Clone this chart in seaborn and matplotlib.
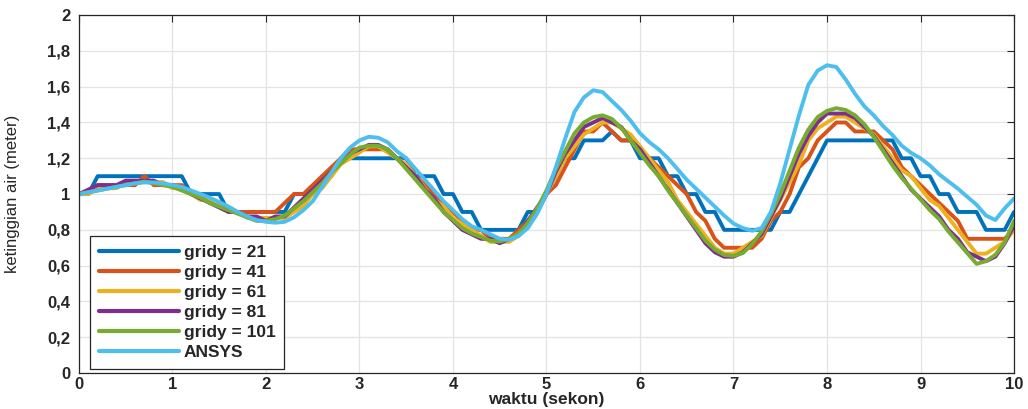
import numpy as np
import pandas as pd
import matplotlib
matplotlib.use("Agg")
import matplotlib.pyplot as plt
import seaborn as sns

# time samples (s)
time = np.round(np.arange(0, 10.01, 0.1), 1)

gridy21 = [1.0, 1.0, 1.1, 1.1, 1.1, 1.1, 1.1, 1.1, 1.1, 1.1,
           1.1, 1.1, 1.0, 1.0, 1.0, 1.0, 0.9, 0.9, 0.9, 0.9,
           0.9, 0.9, 0.9, 1.0, 1.0, 1.0, 1.1, 1.1, 1.2, 1.2,
           1.2, 1.2, 1.2, 1.2, 1.2, 1.2, 1.1, 1.1, 1.1, 1.0,
           1.0, 0.9, 0.9, 0.8, 0.8, 0.8, 0.8, 0.8, 0.9, 0.9,
           1.0, 1.1, 1.2, 1.2, 1.3, 1.3, 1.3, 1.35, 1.3, 1.3,
           1.2, 1.2, 1.2, 1.1, 1.1, 1.0, 1.0, 0.9, 0.9, 0.8,
           0.8, 0.8, 0.8, 0.8, 0.8, 0.9, 0.9, 1.0, 1.1, 1.2,
           1.3, 1.3, 1.3, 1.3, 1.3, 1.3, 1.3, 1.3, 1.2, 1.2,
           1.1, 1.1, 1.0, 1.0, 0.9, 0.9, 0.9, 0.8, 0.8, 0.8,
           0.9]

gridy41 = [1.0, 1.0, 1.05, 1.05, 1.05, 1.05, 1.05, 1.1, 1.05, 1.05,
           1.05, 1.05, 1.0, 1.0, 0.95, 0.95, 0.9, 0.9, 0.9, 0.9,
           0.9, 0.9, 0.95, 1.0, 1.0, 1.05, 1.1, 1.15, 1.2, 1.25,
           1.25, 1.25, 1.25, 1.25, 1.2, 1.15, 1.1, 1.05, 1.0, 0.95,
           0.9, 0.85, 0.8, 0.8, 0.75, 0.75, 0.75, 0.8, 0.85, 0.9,
           1.0, 1.05, 1.15, 1.25, 1.35, 1.35, 1.4, 1.35, 1.3, 1.3,
           1.25, 1.2, 1.15, 1.1, 1.05, 1.0, 0.9, 0.85, 0.75, 0.7,
           0.7, 0.7, 0.7, 0.75, 0.85, 0.9, 1.0, 1.15, 1.2, 1.3,
           1.35, 1.4, 1.4, 1.35, 1.35, 1.35, 1.3, 1.25, 1.15, 1.1,
           1.05, 1.0, 0.95, 0.9, 0.85, 0.75, 0.75, 0.75, 0.75, 0.75,
           0.8]

gridy61 = [1.0, 1.0, 1.033, 1.033, 1.033, 1.067, 1.067, 1.067, 1.067, 1.067,
           1.033, 1.033, 1.0, 0.967, 0.967, 0.933, 0.9, 0.9, 0.867, 0.867,
           0.867, 0.867, 0.867, 0.9, 0.933, 1.0, 1.033, 1.1, 1.167, 1.2,
           1.233, 1.267, 1.267, 1.233, 1.2, 1.167, 1.1, 1.033, 0.967, 0.933,
           0.867, 0.833, 0.8, 0.767, 0.733, 0.733, 0.733, 0.767, 0.833, 0.9,
           1.0, 1.1, 1.2, 1.267, 1.333, 1.367, 1.4, 1.4, 1.367, 1.333,
           1.267, 1.2, 1.133, 1.067, 0.967, 0.9, 0.833, 0.767, 0.7, 0.667,
           0.667, 0.7, 0.733, 0.767, 0.867, 0.967, 1.067, 1.167, 1.3, 1.367,
           1.4, 1.433, 1.433, 1.4, 1.367, 1.333, 1.267, 1.2, 1.133, 1.1,
           1.033, 0.967, 0.933, 0.867, 0.8, 0.733, 0.667, 0.667, 0.7, 0.733,
           0.8]

gridy81 = [1.0, 1.025, 1.05, 1.05, 1.05, 1.075, 1.075, 1.075, 1.075, 1.05,
           1.05, 1.025, 1.0, 0.975, 0.95, 0.925, 0.9, 0.9, 0.875, 0.875,
           0.85, 0.875, 0.875, 0.925, 0.975, 1.025, 1.075, 1.125, 1.175, 1.225,
           1.25, 1.275, 1.275, 1.25, 1.2, 1.15, 1.1, 1.025, 0.975, 0.9,
           0.85, 0.8, 0.775, 0.75, 0.75, 0.725, 0.75, 0.775, 0.85, 0.925,
           1.0, 1.125, 1.225, 1.3, 1.375, 1.4, 1.425, 1.4, 1.375, 1.3,
           1.25, 1.175, 1.1, 1.025, 0.95, 0.875, 0.8, 0.725, 0.675, 0.65,
           0.65, 0.675, 0.725, 0.775, 0.875, 0.975, 1.1, 1.225, 1.325, 1.4,
           1.45, 1.45, 1.45, 1.425, 1.375, 1.325, 1.25, 1.175, 1.1, 1.025,
           0.975, 0.925, 0.875, 0.8, 0.75, 0.675, 0.65, 0.625, 0.65, 0.725,
           0.825]

gridy101 = [1.0, 1.01, 1.02, 1.03, 1.04, 1.05, 1.06, 1.07, 1.06, 1.05,
            1.04, 1.02, 1.0, 0.98, 0.95, 0.93, 0.91, 0.89, 0.87, 0.85,
            0.85, 0.86, 0.88, 0.92, 0.96, 1.01, 1.06, 1.12, 1.17, 1.22,
            1.26, 1.27, 1.27, 1.25, 1.2, 1.14, 1.08, 1.02, 0.96, 0.9,
            0.855, 0.81, 0.78, 0.76, 0.74, 0.735, 0.75, 0.78, 0.84, 0.92,
            1.02, 1.14, 1.24, 1.34, 1.4, 1.43, 1.44, 1.42, 1.37, 1.3,
            1.23, 1.16, 1.1, 1.02, 0.95, 0.88, 0.81, 0.74, 0.69, 0.66,
            0.655, 0.67, 0.72, 0.79, 0.89, 1.0, 1.13, 1.26, 1.36, 1.43,
            1.465, 1.48, 1.47, 1.44, 1.39, 1.32, 1.24, 1.16, 1.09, 1.03,
            0.97, 0.91, 0.86, 0.79, 0.73, 0.67, 0.61, 0.625, 0.66, 0.73,
            0.85]

ansys = [1.0, 1.01, 1.02, 1.03, 1.04, 1.05, 1.06, 1.065, 1.065, 1.06,
         1.05, 1.04, 1.02, 1.0, 0.98, 0.955, 0.93, 0.9, 0.875, 0.855,
         0.845, 0.84, 0.845, 0.87, 0.91, 0.96, 1.04, 1.12, 1.2, 1.26,
         1.3, 1.32, 1.315, 1.29, 1.24, 1.2, 1.14, 1.08, 1.02, 0.96,
         0.91, 0.86, 0.82, 0.8, 0.775, 0.75, 0.745, 0.765, 0.81, 0.89,
         1.0, 1.15, 1.31, 1.46, 1.54, 1.58, 1.57, 1.52, 1.47, 1.41,
         1.34, 1.29, 1.25, 1.2, 1.14, 1.08, 1.03, 0.98, 0.93, 0.88,
         0.835, 0.81, 0.795, 0.81, 0.9, 1.06, 1.25, 1.44, 1.61, 1.69,
         1.72, 1.71, 1.64, 1.56, 1.49, 1.44, 1.38, 1.33, 1.27, 1.23,
         1.2, 1.16, 1.11, 1.07, 1.03, 0.985, 0.94, 0.88, 0.855, 0.92,
         0.975]

series_names = ["gridy = 21", "gridy = 41", "gridy = 61", "gridy = 81",
                "gridy = 101", "ANSYS"]
series_values = [gridy21, gridy41, gridy61, gridy81, gridy101, ansys]
colors = ["#0072BD", "#D95319", "#EDB120", "#7E2F8E", "#77AC30", "#4DBEEE"]

xticks = [0, 1, 2, 3, 4, 5, 6, 7, 8, 9, 10]
yticks = [0, 0.2, 0.4, 0.6, 0.8, 1.0, 1.2, 1.4, 1.6, 1.8, 2.0]
yticklabels = ["0", "0,2", "0,4", "0,6", "0,8", "1", "1,2", "1,4", "1,6", "1,8", "2"]

df = pd.concat([pd.DataFrame({"t": time, "h": v, "series": n})
                for n, v in zip(series_names, series_values)], ignore_index=True)

sns.set_style("white")
plt.rcParams["font.family"] = ["Liberation Sans", "DejaVu Sans"]

fig = plt.figure(figsize=(10.28, 4.09), dpi=100)
ax = fig.add_axes([0.0768, 0.088, 0.9096, 0.875])

sns.lineplot(data=df, x="t", y="h", hue="series", hue_order=series_names,
             palette=colors, linewidth=2.8, ax=ax, legend=False, sort=False)

ax.set_xlim(0, 10)
ax.set_ylim(0, 2)
ax.set_xticks(xticks)
ax.set_xticklabels([str(x) for x in xticks], fontsize=12, fontweight="bold")
ax.set_yticks(yticks)
ax.set_yticklabels(yticklabels, fontsize=12, fontweight="bold")
ax.grid(True, color="#e3e3e3", linewidth=0.9)
ax.set_axisbelow(True)
ax.tick_params(direction="in", length=5, width=0.8, color="#262626",
               top=True, right=True, labelcolor="#262626")
ax.tick_params(axis="x", pad=3)
ax.tick_params(axis="y", pad=6)
for s in ax.spines.values():
    s.set_visible(True)
    s.set_color("#262626")
    s.set_linewidth(0.9)

ax.set_xlabel("waktu (sekon)", fontsize=12.5, fontweight="bold", labelpad=0)
ax.set_ylabel("ketinggian air (meter)", fontsize=12)
ax.yaxis.set_label_coords(-0.063, 0.5)

handles = [plt.Line2D([], [], color=c, linewidth=3) for c in colors]
leg = ax.legend(handles, series_names, loc="lower left",
                bbox_to_anchor=(0.012, 0.011), borderaxespad=0,
                prop={"weight": "bold", "size": 12.5}, handlelength=4.6,
                handletextpad=0.3, labelspacing=0.28, borderpad=0.5,
                frameon=True, fancybox=False, edgecolor="#262626",
                framealpha=1)
leg.get_frame().set_linewidth(0.9)

fig.savefig("out.png", dpi=100)
